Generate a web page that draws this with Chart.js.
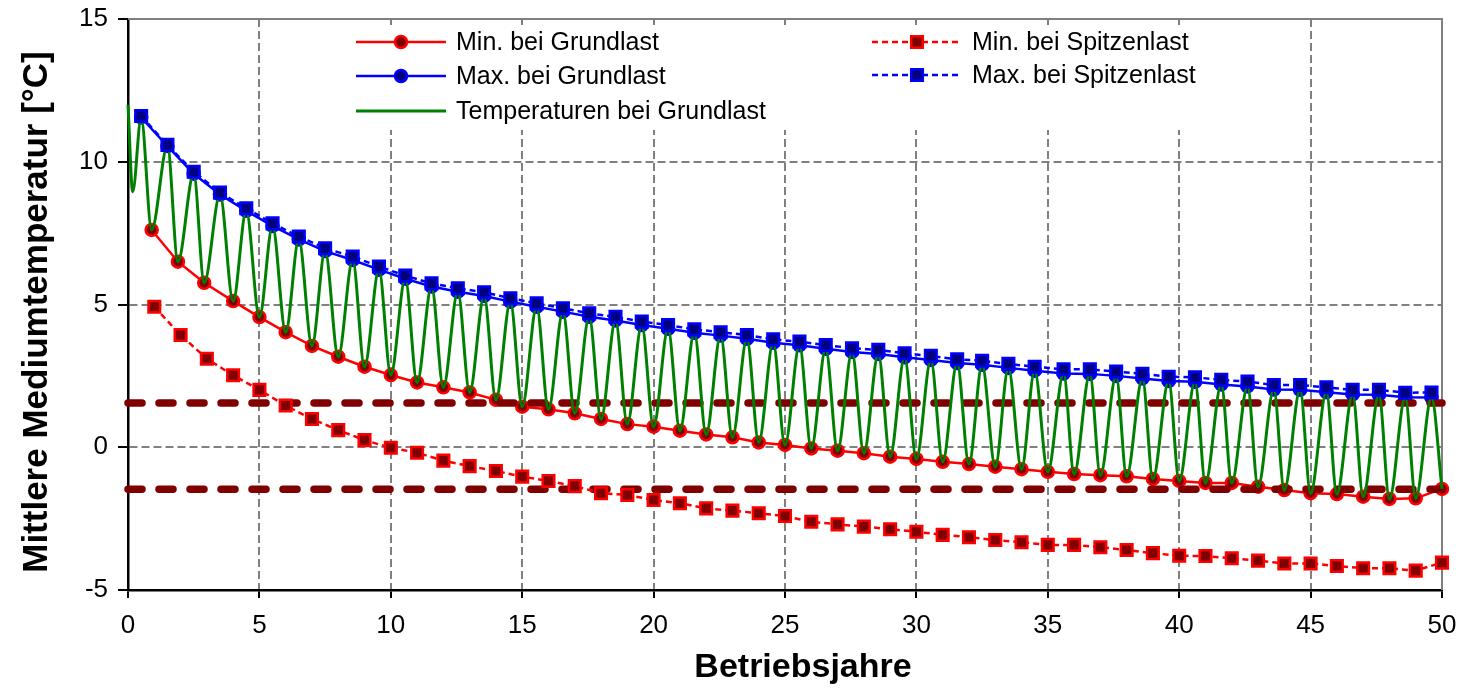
<!DOCTYPE html>
<html>
<head>
<meta charset="utf-8">
<script src="https://cdn.jsdelivr.net/npm/chart.js@4/dist/chart.umd.min.js"></script>
<style>
  html, body { margin: 0; padding: 0; background: #fff; }
</style>
</head>
<body>
<canvas id="chart" width="1466" height="690"></canvas>
<script>
/* ── Data ── */
const minYearsGrund = [0.9, 1.9, 2.9, 4, 5, 6, 7, 8, 9, 10, 11, 12, 13, 14, 15, 16, 17, 18, 19, 20,
  21, 22, 23, 24, 25, 26, 27, 28, 29, 30, 31, 32, 33, 34, 35, 36, 37, 38, 39, 40,
  41, 42, 43, 44, 45, 46, 47, 48, 49, 50];
const minYearsSpitze = [1, 2, 3, 4, 5, 6, 7, 8, 9, 10, 11, 12, 13, 14, 15, 16, 17, 18, 19, 20,
  21, 22, 23, 24, 25, 26, 27, 28, 29, 30, 31, 32, 33, 34, 35, 36, 37, 38, 39, 40,
  41, 42, 43, 44, 45, 46, 47, 48, 49, 50];
const maxYears = [0.5, 1.5, 2.5, 3.5, 4.5, 5.5, 6.5, 7.5, 8.55, 9.55, 10.55, 11.55, 12.55, 13.55,
  14.55, 15.55, 16.55, 17.55, 18.55, 19.55, 20.55, 21.55, 22.55, 23.55, 24.55, 25.55, 26.55,
  27.55, 28.55, 29.55, 30.55, 31.55, 32.5, 33.5, 34.5, 35.6, 36.6, 37.6, 38.6, 39.6, 40.6,
  41.6, 42.6, 43.6, 44.6, 45.6, 46.6, 47.6, 48.6, 49.6];

const minGrund = [7.61, 6.50, 5.76, 5.12, 4.56, 4.03, 3.55, 3.17, 2.82, 2.53,
  2.27, 2.10, 1.92, 1.66, 1.42, 1.33, 1.19, 0.99, 0.81, 0.72,
  0.58, 0.45, 0.35, 0.17, 0.08, -0.04, -0.12, -0.21, -0.33, -0.41,
  -0.51, -0.59, -0.68, -0.77, -0.86, -0.94, -0.98, -1.02, -1.11, -1.18,
  -1.25, -1.25, -1.38, -1.50, -1.61, -1.64, -1.73, -1.81, -1.79, -1.46];
const maxGrund = [11.55, 10.55, 9.58, 8.85, 8.28, 7.75, 7.28, 6.87, 6.56, 6.22,
  5.90, 5.63, 5.45, 5.30, 5.10, 4.92, 4.75, 4.57, 4.44, 4.28,
  4.15, 4.01, 3.91, 3.80, 3.66, 3.57, 3.45, 3.34, 3.27, 3.15,
  3.06, 2.95, 2.89, 2.78, 2.68, 2.58, 2.57, 2.50, 2.41, 2.32,
  2.29, 2.20, 2.13, 2.02, 2.01, 1.93, 1.85, 1.84, 1.75, 1.74];
const minSpitze = [4.92, 3.93, 3.10, 2.52, 2.01, 1.46, 0.99, 0.60, 0.25, -0.02,
  -0.19, -0.47, -0.66, -0.83, -1.03, -1.18, -1.36, -1.61, -1.67, -1.85,
  -1.96, -2.14, -2.22, -2.31, -2.41, -2.61, -2.70, -2.78, -2.87, -2.96,
  -3.07, -3.15, -3.25, -3.33, -3.42, -3.42, -3.50, -3.60, -3.71, -3.80,
  -3.81, -3.89, -3.97, -4.07, -4.07, -4.16, -4.24, -4.24, -4.32, -4.04];
const maxSpitze = [11.60, 10.59, 9.65, 8.92, 8.37, 7.84, 7.38, 6.97, 6.68, 6.33,
  6.01, 5.74, 5.57, 5.43, 5.22, 5.04, 4.87, 4.69, 4.57, 4.40,
  4.28, 4.13, 4.03, 3.93, 3.78, 3.70, 3.58, 3.47, 3.41, 3.29,
  3.20, 3.08, 3.03, 2.92, 2.82, 2.73, 2.73, 2.65, 2.57, 2.47,
  2.45, 2.36, 2.30, 2.18, 2.18, 2.10, 2.01, 2.01, 1.91, 1.92];

// start of the temperature curve (before the first yearly maximum)
const tempStartYears = [0, 0.18];
const tempStartValues = [12.0, 8.95];

// horizontal limit lines
const limitUpper = 1.55;
const limitLower = -1.47;

const xMin = 0, xMax = 50, yMin = -5, yMax = 15;
const xTicks = [0, 5, 10, 15, 20, 25, 30, 35, 40, 45, 50];
const yTicks = [-5, 0, 5, 10, 15];

const labels = {
  minGrund: "Min. bei Grundlast",
  maxGrund: "Max. bei Grundlast",
  temp: "Temperaturen bei Grundlast",
  minSpitze: "Min. bei Spitzenlast",
  maxSpitze: "Max. bei Spitzenlast",
};
const xTitle = "Betriebsjahre";
const yTitle = "Mittlere Mediumtemperatur [°C]";

/* ── Helpers ── */
const FONT = "'Liberation Sans', Arial, sans-serif";
const pts = (xs, ys) => xs.map((x, i) => ({ x, y: ys[i] }));

// temperature curve passes through the yearly max / min values
const tempPoints = pts(tempStartYears, tempStartValues);
maxYears.forEach((x, i) => {
  tempPoints.push({ x, y: maxGrund[i] });
  tempPoints.push({ x: minYearsGrund[i], y: minGrund[i] });
});

const RED = "#ff0000", DARKRED = "#800000", BLUE = "#0000ff", NAVY = "#000080", GREEN = "#008000";

const styleMinGrund = { borderColor: RED, backgroundColor: DARKRED, borderWidth: 2.5, borderDash: [],
  pointStyle: "circle", pointRadius: 6, pointBorderWidth: 2.5, pointBorderColor: RED, pointBackgroundColor: DARKRED };
const styleMaxGrund = { borderColor: BLUE, backgroundColor: NAVY, borderWidth: 2.5, borderDash: [],
  pointStyle: "circle", pointRadius: 6, pointBorderWidth: 2.5, pointBorderColor: BLUE, pointBackgroundColor: NAVY };
const styleMinSpitze = { borderColor: RED, backgroundColor: DARKRED, borderWidth: 2.5, borderDash: [6, 4],
  pointStyle: "rect", pointRadius: 8.2, pointBorderWidth: 2.5, pointBorderColor: RED, pointBackgroundColor: DARKRED };
const styleMaxSpitze = { borderColor: BLUE, backgroundColor: NAVY, borderWidth: 2.5, borderDash: [6, 4],
  pointStyle: "rect", pointRadius: 8.2, pointBorderWidth: 2.5, pointBorderColor: BLUE, pointBackgroundColor: NAVY };
const styleTemp = { borderColor: GREEN, borderWidth: 3, borderDash: [], pointRadius: 0 };

const limitStyle = { borderColor: DARKRED, borderWidth: 7.5, borderDash: [14, 17], borderCapStyle: "round",
  pointRadius: 0 };

/* ── Plugin: frame, legend box, axis titles ── */
const framePlugin = {
  id: "frame",
  beforeDatasetsDraw(chart) {
    const { ctx, chartArea: a } = chart;
    ctx.save();
    // legend background
    ctx.fillStyle = "#ffffff";
    ctx.fillRect(345, 25, 870, 105);
    ctx.strokeStyle = "#808080";
    ctx.lineWidth = 2;
    ctx.beginPath();
    ctx.moveTo(a.left, a.top);
    ctx.lineTo(a.right, a.top);
    ctx.lineTo(a.right, a.bottom);
    ctx.stroke();
    ctx.restore();
  },
  afterDraw(chart) {
    const ctx = chart.ctx;
    const items = [
      { text: labels.minGrund, s: styleMinGrund, x: 356, y: 42 },
      { text: labels.maxGrund, s: styleMaxGrund, x: 356, y: 76 },
      { text: labels.temp, s: styleTemp, x: 356, y: 111 },
      { text: labels.minSpitze, s: styleMinSpitze, x: 872, y: 42 },
      { text: labels.maxSpitze, s: styleMaxSpitze, x: 872, y: 75 },
    ];
    items.forEach((it) => {
      const s = it.s;
      ctx.save();
      ctx.strokeStyle = s.borderColor;
      ctx.lineWidth = s.borderWidth;
      ctx.setLineDash(s.borderDash);
      ctx.beginPath();
      ctx.moveTo(it.x, it.y);
      ctx.lineTo(it.x + 90, it.y);
      ctx.stroke();
      ctx.setLineDash([]);
      if (s.pointRadius) {
        ctx.fillStyle = s.pointBackgroundColor;
        ctx.strokeStyle = s.pointBorderColor;
        ctx.lineWidth = s.pointBorderWidth;
        Chart.helpers.drawPoint(ctx, { pointStyle: s.pointStyle, radius: s.pointRadius,
          borderWidth: s.pointBorderWidth, rotation: 0 }, it.x + 45, it.y);
      }
      ctx.fillStyle = "#000";
      ctx.font = "25px " + FONT;
      ctx.textBaseline = "middle";
      ctx.fillText(it.text, it.x + 100, it.y + 1);
      ctx.restore();
    });

    // axis titles
    ctx.save();
    ctx.fillStyle = "#000";
    ctx.textAlign = "center";
    ctx.textBaseline = "middle";
    ctx.font = "bold 34px " + FONT;
    ctx.fillText(xTitle, 803, 668);
    ctx.translate(37, 312);
    ctx.rotate(-Math.PI / 2);
    ctx.font = "bold 35px " + FONT;
    ctx.fillText(yTitle, 0, 0);
    ctx.restore();
  },
};

/* ── Chart ── */
const datasets = [
  { label: labels.maxSpitze, data: pts(maxYears, maxSpitze), ...styleMaxSpitze },
  { label: labels.minSpitze, data: pts(minYearsSpitze, minSpitze), ...styleMinSpitze },
  { label: labels.temp, data: tempPoints, ...styleTemp, cubicInterpolationMode: "monotone" },
  { label: "limit-upper", data: pts([xMin, xMax], [limitUpper, limitUpper]), ...limitStyle },
  { label: "limit-lower", data: pts([xMin, xMax], [limitLower, limitLower]), ...limitStyle },
  { label: labels.maxGrund, data: pts(maxYears, maxGrund), ...styleMaxGrund },
  { label: labels.minGrund, data: pts(minYearsGrund, minGrund), ...styleMinGrund },
].map((d) => ({ ...d, clip: false, fill: false, tension: 0 }));

new Chart(document.getElementById("chart"), {
  type: "line",
  data: { datasets },
  plugins: [framePlugin],
  options: {
    responsive: false,
    animation: false,
    layout: { padding: { top: 19, right: 24, left: 0, bottom: 0 } },
    plugins: { legend: { display: false }, tooltip: { enabled: false } },
    scales: {
      x: {
        type: "linear",
        min: xMin,
        max: xMax,
        afterFit: (s) => { s.height = 100; s.paddingLeft = 0; s.paddingRight = 0; },
        afterBuildTicks: (s) => { s.ticks = xTicks.map((v) => ({ value: v })); },
        grid: { color: "#808080", lineWidth: 2, tickColor: "#000", tickWidth: 2, tickLength: 8 },
        border: { color: "#000", width: 2.5, dash: [8, 4] },
        ticks: { color: "#000", font: { family: FONT, size: 26 }, padding: 12, maxRotation: 0 },
      },
      y: {
        min: yMin,
        max: yMax,
        afterFit: (s) => { s.width = 128; s.paddingTop = 0; s.paddingBottom = 0; },
        afterBuildTicks: (s) => { s.ticks = yTicks.map((v) => ({ value: v })); },
        grid: { color: "#808080", lineWidth: 2, tickColor: "#000", tickWidth: 2, tickLength: 10 },
        border: { color: "#000", width: 2.5, dash: [8, 4] },
        ticks: { color: "#000", font: { family: FONT, size: 26 }, padding: 10 },
      },
    },
  },
});
</script>
</body>
</html>
